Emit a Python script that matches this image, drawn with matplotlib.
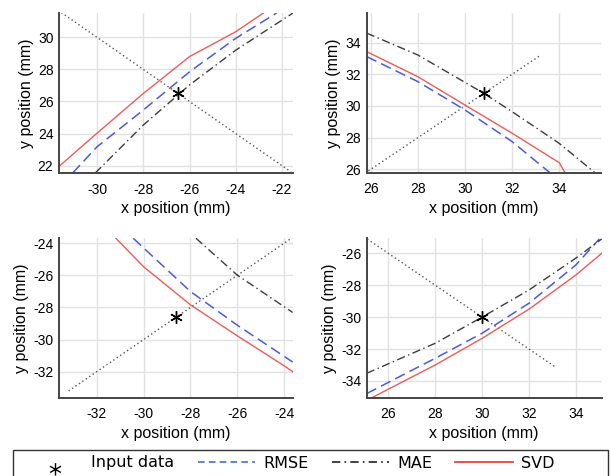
import matplotlib
matplotlib.use("Agg")
import matplotlib.pyplot as plt
import numpy as np
from matplotlib.lines import Line2D
from matplotlib.patches import Rectangle
from matplotlib.path import Path

plt.rcParams["axes.unicode_minus"] = False

# ---------------- data ----------------
# Panel 1 (top-left)
ref1_x = [-31.55, -21.6]
ref1_y = [31.55, 21.6]
star1_x = [-26.5]
star1_y = [26.5]
rmse1_x = [-31.06, -30, -28, -26, -24, -22.23]
rmse1_y = [21.54, 23.18, 25.47, 27.85, 29.94, 31.52]
mae1_x = [-30.08, -28, -26, -24, -21.52]
mae1_y = [21.54, 24.53, 27.03, 29.2, 31.52]
svd1_x = [-31.65, -30, -28, -26, -24, -22.8]
svd1_y = [21.95, 24.03, 26.5, 28.8, 30.35, 31.52]

# Panel 2 (top-right)
ref2_x = [25.9, 33.15]
ref2_y = [25.9, 33.15]
star2_x = [30.8]
star2_y = [30.8]
rmse2_x = [25.83, 28, 30, 32, 33.6]
rmse2_y = [33.12, 31.54, 29.75, 27.75, 25.79]
mae2_x = [25.83, 28, 30.8, 32, 34, 35.51]
mae2_y = [34.6, 33.22, 30.8, 29.64, 27.64, 25.79]
svd2_x = [25.83, 28, 30, 32, 34, 34.24]
svd2_y = [33.43, 31.85, 30.06, 28.28, 26.42, 25.79]

# Panel 3 (bottom-left)
ref3_x = [-33.2, -23.65]
ref3_y = [-33.2, -23.65]
star3_x = [-28.6]
star3_y = [-28.6]
rmse3_x = [-30.44, -28, -26, -24, -23.63]
rmse3_y = [-23.69, -27.0, -29.1, -31.04, -31.4]
mae3_x = [-27.76, -26, -23.63]
mae3_y = [-23.69, -25.98, -28.31]
svd3_x = [-31.18, -30, -28, -26, -24, -23.63]
svd3_y = [-23.69, -25.46, -27.83, -29.76, -31.63, -32.0]

# Panel 4 (bottom-right)
ref4_x = [25.1, 33.1]
ref4_y = [-25.1, -33.1]
star4_x = [30.0]
star4_y = [-30.0]
rmse4_x = [25.08, 28, 30, 32, 34, 35.0]
rmse4_y = [-34.79, -32.58, -31.01, -29.13, -26.73, -25.1]
mae4_x = [25.08, 28, 30, 32, 34, 35.1]
mae4_y = [-33.52, -31.64, -30.0, -28.3, -26.3, -25.1]
svd4_x = [25.3, 28, 30, 32, 34, 35.1]
svd4_y = [-35.05, -33.0, -31.33, -29.5, -27.36, -26.0]

xlims = [(-31.65, -21.52), (25.83, 35.77), (-33.61, -23.63), (25.08, 35.1)]
ylims = [(21.54, 31.52), (25.79, 35.87), (-33.62, -23.69), (-35.05, -25.06)]
xticks = [[-30, -28, -26, -24, -22], [26, 28, 30, 32, 34],
          [-32, -30, -28, -26, -24], [26, 28, 30, 32, 34]]
yticks = [[22, 24, 26, 28, 30], [26, 28, 30, 32, 34],
          [-32, -30, -28, -26, -24], [-34, -32, -30, -28, -26]]

legend_labels = ["Input data", "RMSE", "MAE", "SVD"]

# ---------------- styles ----------------
C_REF = "#555555"
C_RMSE = "#4a5ae0"
C_MAE = "#3c3c3c"
C_SVD = "#f05a5a"
DASH_RMSE = (0, (7, 3.5))
DASH_MAE = (0, (6, 2.5, 1, 2.5))
DOT_REF = (0, (1, 2))
STAR = (6, 2, 0)


def asterisk_path(dy):
    verts, codes = [], []
    for a in (90, 30, -30):
        c, s = np.cos(np.radians(a)), np.sin(np.radians(a))
        verts += [(c, s + dy), (-c, -s + dy)]
        codes += [Path.MOVETO, Path.LINETO]
    return Path(verts, codes)


LEG_DY = -1.1
LEG_STAR = asterisk_path(LEG_DY)

W, H = 611, 476
fig = plt.figure(figsize=(W / 100, H / 100), dpi=100)

boxes = [(59, 293, 13, 173), (366.7, 601, 13, 172.7),
         (59, 292.7, 238.3, 397.7), (366.7, 601.7, 238.3, 397.7)]

panels = [
    (ref1_x, ref1_y, star1_x, star1_y, rmse1_x, rmse1_y, mae1_x, mae1_y, svd1_x, svd1_y),
    (ref2_x, ref2_y, star2_x, star2_y, rmse2_x, rmse2_y, mae2_x, mae2_y, svd2_x, svd2_y),
    (ref3_x, ref3_y, star3_x, star3_y, rmse3_x, rmse3_y, mae3_x, mae3_y, svd3_x, svd3_y),
    (ref4_x, ref4_y, star4_x, star4_y, rmse4_x, rmse4_y, mae4_x, mae4_y, svd4_x, svd4_y),
]

AX_FONT = "Liberation Sans"

for i, (box, p) in enumerate(zip(boxes, panels)):
    l, r, t, b = box
    ax = fig.add_axes([l / W, 1 - b / H, (r - l) / W, (b - t) / H])
    rx, ry, sx, sy, bx, by, mx, my, vx, vy = p
    ax.plot(rx, ry, color=C_REF, lw=1.0, linestyle=DOT_REF)
    ax.plot(vx, vy, color=C_SVD, lw=1.0)
    ax.plot(bx, by, color=C_RMSE, lw=1.1, linestyle=DASH_RMSE)
    ax.plot(mx, my, color=C_MAE, lw=1.0, linestyle=DASH_MAE)
    ax.plot(sx, sy, linestyle="none", marker=STAR, markersize=9,
            markeredgewidth=1.0, color="black")
    ax.set_xlim(*xlims[i])
    ax.set_ylim(*ylims[i])
    ax.set_xticks(xticks[i])
    ax.set_yticks(yticks[i])
    ax.grid(True, color="#e2e2e2", lw=1.0)
    ax.set_axisbelow(True)
    for s in ["top", "right"]:
        ax.spines[s].set_visible(False)
    for s in ["left", "bottom"]:
        ax.spines[s].set_color("#444444")
        ax.spines[s].set_linewidth(1.4)
        ax.spines[s].set_linestyle((0, (1, 1)))
    ax.tick_params(length=0, labelsize=10, pad=4)
    ax.tick_params(axis="x", pad=7)
    for lab in ax.get_xticklabels() + ax.get_yticklabels():
        lab.set_fontfamily(AX_FONT)
    ax.set_xlabel("x position (mm)", fontsize=11.5, family=AX_FONT, labelpad=3)
    ax.set_ylabel("y position (mm)", fontsize=11.5, family=AX_FONT, labelpad=3)

# ---------------- legend ----------------
handles = [
    Line2D([], [], linestyle="none", marker=LEG_STAR, markersize=9 * (1 - LEG_DY),
           markeredgewidth=1.0, color="black", markerfacecolor="none"),
    Line2D([], [], color="#3a78c8", lw=1.2, linestyle=(0, (4, 2.5))),
    Line2D([], [], color="#222222", lw=1.2, linestyle=(0, (5, 2.5, 1, 2.5))),
    Line2D([], [], color="#e83030", lw=1.2),
]
fig.legend(handles, legend_labels, loc="center left", ncol=4,
           bbox_to_anchor=(26 / W, 1 - 463 / H), frameon=False,
           borderpad=0, borderaxespad=0, handlelength=3.6, handletextpad=0.5,
           columnspacing=1.45, prop={"family": "DejaVu Sans", "size": 11.5})
fig.patches.append(Rectangle((12.7 / W, -0.05), (608 - 12.7) / W, (476 - 450) / H + 0.05,
                             transform=fig.transFigure, fill=False,
                             edgecolor="#333333", lw=1.0))

fig.savefig("out.png", dpi=100)
